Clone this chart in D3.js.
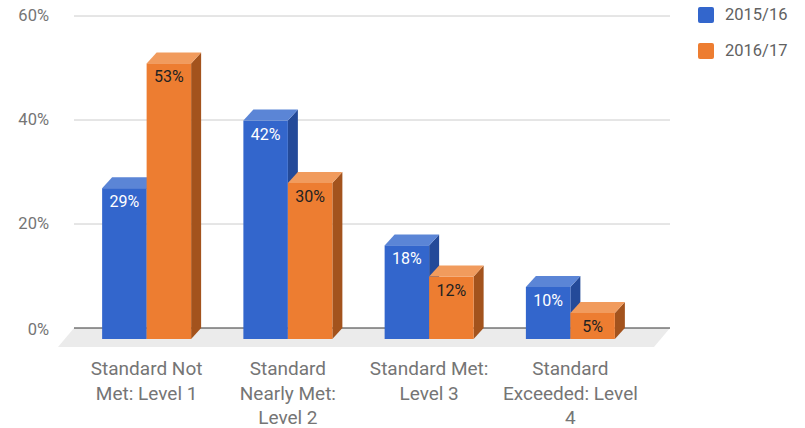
<!DOCTYPE html>
<html>
<head>
<meta charset="utf-8">
<script src="https://cdn.jsdelivr.net/npm/d3@7"></script>
<style>
  body { margin: 0; background: #fff; }
  svg { font-family: Roboto, "Noto Sans", Arial, sans-serif; }
</style>
</head>
<body>
<div id="chart"></div>
<script>
// Chart data
var categories = [
  ["Standard Not", "Met: Level 1"],
  ["Standard", "Nearly Met:", "Level 2"],
  ["Standard Met:", "Level 3"],
  ["Standard", "Exceeded: Level", "4"]
];
var seriesNames = ["2015/16", "2016/17"];
var values2015 = [29, 42, 18, 10];
var values2016 = [53, 30, 12, 5];
var yTicks = [0, 20, 40, 60];

var width = 805, height = 428;
var depth = { dx: 10, dy: 11 };

// colours: front, top, side
var palette = [
  { front: "#3366cc", top: "#5b85d6", side: "#244a99", text: "#ffffff" },
  { front: "#ed7d31", top: "#f19b5d", side: "#a3531d", text: "#222222" }
];

var svg = d3.select("#chart").append("svg")
  .attr("width", width)
  .attr("height", height);

// front face scale (bars), back wall is shifted by depth
var yScale = d3.scaleLinear().domain([0, 60]).range([339, 27]);
var xScale = d3.scaleBand().domain(d3.range(categories.length)).range([76, 641]).paddingInner(0.37).paddingOuter(0.185);
var xSub = d3.scaleBand().domain([0, 1]).range([0, xScale.bandwidth()]);

var backLeft = 74, backRight = 670;
var floorDepth = { dx: 16, dy: 19 };
var base = yScale(0) - depth.dy;

// floor
svg.append("polygon")
  .attr("points", [
    [backLeft, base], [backRight, base],
    [backRight - floorDepth.dx, base + floorDepth.dy], [backLeft - floorDepth.dx, base + floorDepth.dy]
  ].join(" "))
  .attr("fill", "#ebebeb");

// gridlines on back wall
svg.selectAll("line.grid")
  .data(yTicks)
  .enter().append("line")
  .attr("class", "grid")
  .attr("x1", backLeft)
  .attr("x2", backRight)
  .attr("y1", function(d) { return yScale(d) - depth.dy; })
  .attr("y2", function(d) { return yScale(d) - depth.dy; })
  .attr("stroke", function(d) { return d === 0 ? "#333333" : "#cccccc"; })
  .attr("stroke-width", 1);

// y tick labels
svg.selectAll("text.ytick")
  .data(yTicks)
  .enter().append("text")
  .attr("class", "ytick")
  .attr("x", 49)
  .attr("y", function(d) { return yScale(d) - depth.dy + 5 + (d === 0 ? 2 : 0); })
  .attr("text-anchor", "end")
  .attr("fill", "#757575")
  .style("font-size", "16.5px")
  .text(function(d) { return d + "%"; });

// bars
var seriesValues = [values2015, values2016];
categories.forEach(function(c, i) {
  seriesValues.forEach(function(vals, s) {
    var v = vals[i];
    var x0 = xScale(i) + xSub(s);
    var x1 = x0 + xSub.bandwidth();
    var yTop = yScale(v);
    var yBot = yScale(0);
    var col = palette[s];
    var g = svg.append("g");
    g.append("polygon")
      .attr("points", [[x1, yTop], [x1 + depth.dx, yTop - depth.dy], [x1 + depth.dx, yBot - depth.dy], [x1, yBot]].join(" "))
      .attr("fill", col.side);
    g.append("polygon")
      .attr("points", [[x0, yTop], [x0 + depth.dx, yTop - depth.dy], [x1 + depth.dx, yTop - depth.dy], [x1, yTop]].join(" "))
      .attr("fill", col.top);
    g.append("rect")
      .attr("x", x0)
      .attr("y", yTop)
      .attr("width", x1 - x0)
      .attr("height", yBot - yTop)
      .attr("fill", col.front);
    g.append("text")
      .attr("x", (x0 + x1) / 2)
      .attr("y", yTop + 19)
      .attr("text-anchor", "middle")
      .attr("fill", col.text)
      .style("font-size", "16px")
      .text(v + "%");
  });
});

// category labels
categories.forEach(function(lines, i) {
  var t = svg.append("text")
    .attr("x", xScale(i) + xScale.bandwidth() / 2)
    .attr("y", 375)
    .attr("text-anchor", "middle")
    .attr("fill", "#757575")
    .style("font-size", "19px");
  lines.forEach(function(line, k) {
    t.append("tspan")
      .attr("x", xScale(i) + xScale.bandwidth() / 2)
      .attr("dy", k === 0 ? 0 : 24.5)
      .text(line);
  });
});

// legend
var legend = svg.selectAll("g.legend")
  .data(seriesNames)
  .enter().append("g")
  .attr("class", "legend")
  .attr("transform", function(d, i) { return "translate(698," + (7 + i * 36) + ")"; });

legend.append("rect")
  .attr("width", 16)
  .attr("height", 16)
  .attr("rx", 2)
  .attr("fill", function(d, i) { return palette[i].front; });

legend.append("text")
  .attr("x", 27)
  .attr("y", 13)
  .attr("fill", "#616161")
  .style("font-size", "16.5px")
  .text(function(d) { return d; });
</script>
</body>
</html>
